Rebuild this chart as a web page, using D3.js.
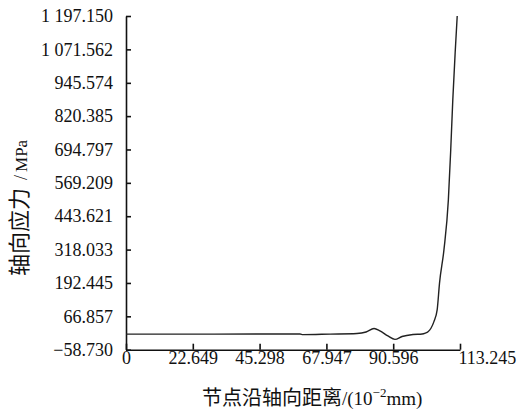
<html lang="zh">
<head>
    <meta charset="UTF-8">
    <script src="https://d3js.org/d3.v7.min.js"></script>
    <style>
        body { margin: 0; background: #fff; }
    </style>
</head>
<body>
    <script type="text/javascript">

        // tick labels as printed on the figure
        let xTicks = [0, 22.649, 45.298, 67.947, 90.596, 113.245];
        let yTicks = [-58.730, 66.857, 192.445, 318.033, 443.621, 569.209, 694.797, 820.385, 945.574, 1071.562, 1197.150];

        // axial stress along the node path
        let dist   = [0, 30, 59.0, 60.0, 69.2, 78.3, 81.4, 84.1, 86.1, 88.8, 91.2, 93.6, 97.3, 100.4, 101.5, 102.4, 103.4, 104.4, 105.5, 106.3, 107.8, 109.3, 110.1, 110.8, 111.6, 112.3];
        let stress = [0, 0, 0.4, -2, 0, 2.2, 8, 21, 12, -7, -20, -9, -1.5, 0.4, 4, 9, 22, 47, 91, 192, 317, 505, 693, 881, 1058, 1197];

        let width = 519;
        let height = 410;
        let serif = '"Liberation Serif", "Times New Roman", serif';
        let cjk = '"Noto Sans CJK SC", sans-serif';

        let svg = d3.select('body')
            .append('svg')
            .attr('width', width)
            .attr('height', height);

        let x = d3.scaleLinear().domain([0, 113.245]).range([126, 460]);
        let y = d3.scaleLinear().domain([-58.730, 1197.150]).range([349.7, 16]);

        let loc = d3.formatLocale({decimal: ".", thousands: " ", grouping: [3], currency: ["", ""], minus: "\u2212"});
        let yFmt = loc.format(",.3f");
        let xFmt = function(d) { return d === 0 ? "0" : d3.format(".3f")(d); };

        // y axis, ticks pointing inward
        let yAxis = svg.append('g')
            .attr('transform', 'translate(126,0)')
            .call(d3.axisLeft(y).tickValues(yTicks).tickSize(-5).tickSizeOuter(0).tickPadding(13).tickFormat(yFmt));

        // x axis, ticks pointing inward
        let xAxis = svg.append('g')
            .attr('transform', 'translate(0,349.7)')
            .call(d3.axisBottom(x).tickValues(xTicks).tickSize(-6).tickSizeOuter(0).tickPadding(2).tickFormat(xFmt));

        [yAxis, xAxis].forEach(function(ax) {
            ax.attr('font-family', serif).attr('font-size', 18);
            ax.select('.domain').attr('stroke', '#111').attr('stroke-width', 1.6);
            ax.selectAll('.tick line').attr('stroke', '#111').attr('stroke-width', 1.6);
            ax.selectAll('.tick text').attr('fill', '#111');
        });

        // last x label sits to the right of its tick in the figure
        xAxis.selectAll('.tick text')
            .filter(function(d) { return d === 113.245; })
            .attr('text-anchor', 'start')
            .attr('x', -2);

        let line = d3.line()
            .x(function(d, i) { return x(dist[i]); })
            .y(function(d, i) { return y(stress[i]); })
            .curve(d3.curveMonotoneX);

        svg.append('path')
            .datum(stress)
            .attr('fill', 'none')
            .attr('stroke', '#222')
            .attr('stroke-width', 1.4)
            .attr('d', line);

        // axis titles
        let yLab = svg.append('text')
            .attr('transform', 'translate(27,276) rotate(-90)')
            .attr('font-family', serif)
            .attr('fill', '#111');
        yLab.append('tspan').attr('font-family', cjk).attr('font-size', 22).text('轴向应力');
        yLab.append('tspan').attr('font-size', 18).attr('dx', 8).text('/');
        yLab.append('tspan').attr('font-size', 17).attr('dx', 3).text('MPa');

        let xLab = svg.append('text')
            .attr('x', 202)
            .attr('y', 405)
            .attr('font-family', serif)
            .attr('fill', '#111');
        xLab.append('tspan').attr('font-family', cjk).attr('font-size', 20).text('节点沿轴向距离');
        xLab.append('tspan').attr('font-size', 19).text('/(10');
        xLab.append('tspan').attr('font-size', 13).attr('dy', -8).text('\u22122');
        xLab.append('tspan').attr('font-size', 19).attr('dy', 8).text('mm)');
    </script>
</body>
</html>
